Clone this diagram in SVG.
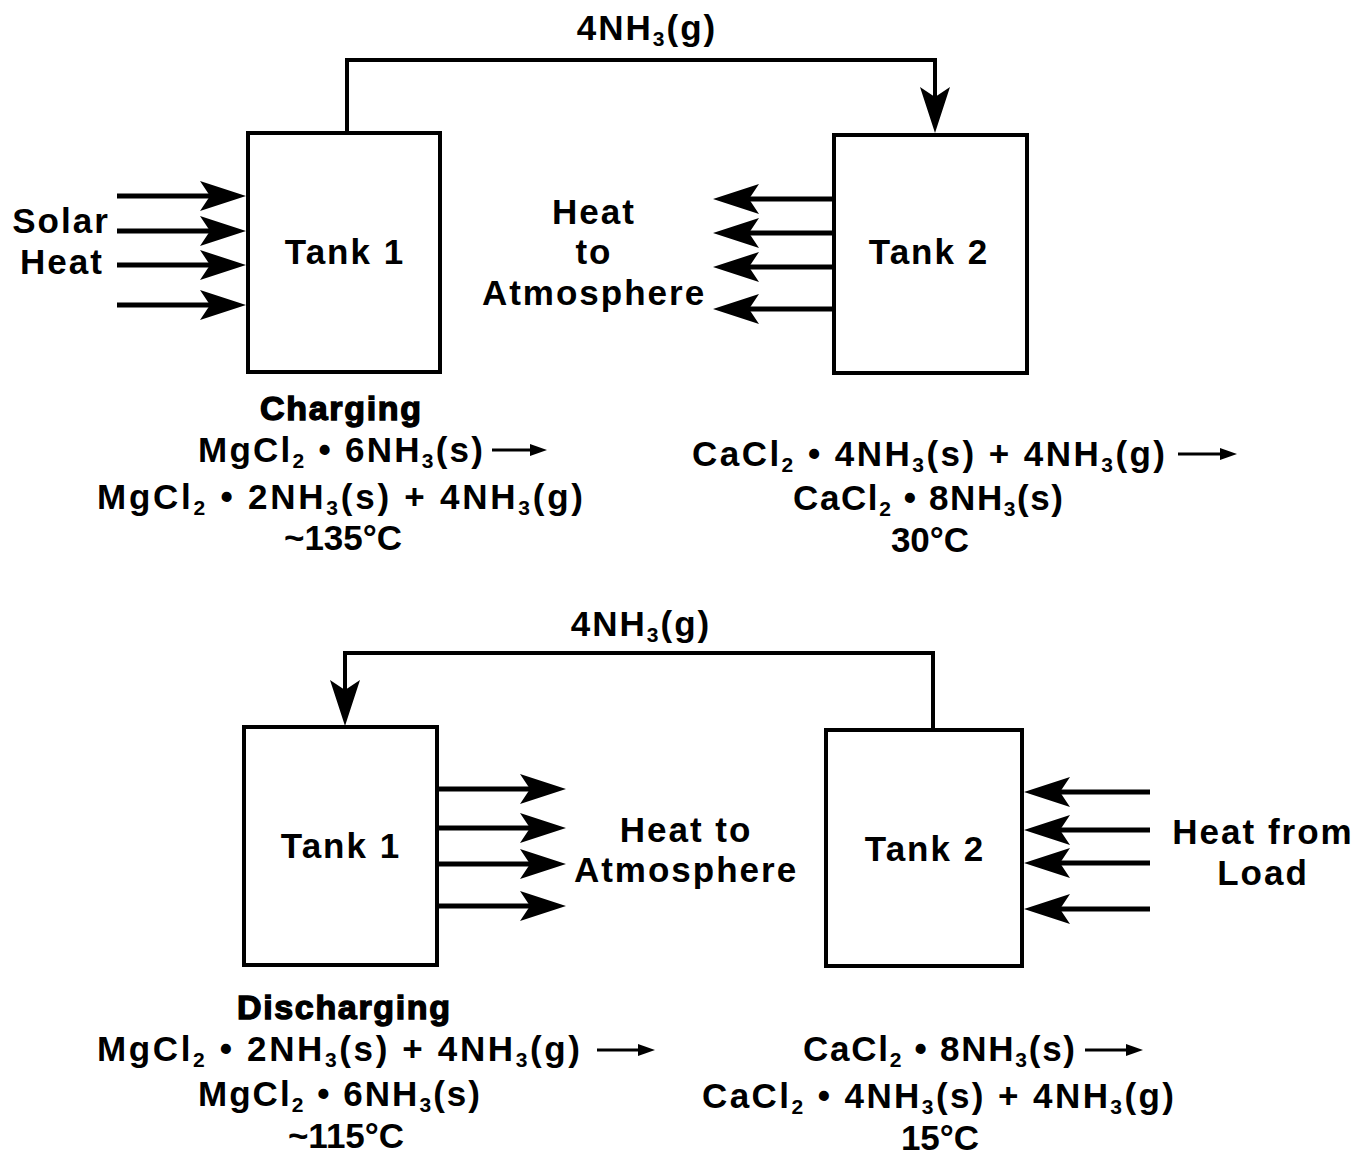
<svg xmlns="http://www.w3.org/2000/svg" width="1360" height="1155" viewBox="0 0 1360 1155">
<style>
.tank{fill:none;stroke:#000;stroke-width:4}
.pipe{fill:none;stroke:#000;stroke-width:4}
.heat{fill:none;stroke:#000;stroke-width:5;marker-end:url(#bh)}
.rx{fill:none;stroke:#000;stroke-width:3;marker-end:url(#sh)}
text{font-family:"Liberation Sans",Arial,sans-serif;font-weight:bold;fill:#000}
.lbl{font-size:35px;letter-spacing:2px;text-anchor:middle}
.chem{font-size:35px}
.hd{font-size:34px;stroke:#000;stroke-width:1.4}
.sub{font-size:21px}
</style>
<defs>
<marker id="bh" markerUnits="userSpaceOnUse" viewBox="-50 -20 55 40" markerWidth="55" markerHeight="40" refX="-30" refY="0" orient="auto">
<path d="M0,0 L-46,-15 L-36,0 L-46,15 Z" fill="#000"/>
</marker>
<marker id="sh" markerUnits="userSpaceOnUse" viewBox="-20 -10 24 20" markerWidth="24" markerHeight="20" refX="-10" refY="0" orient="auto">
<path d="M0,0 L-17,-6 L-17,6 Z" fill="#000"/>
</marker>
</defs>

<g id="top-tank1"><rect class="tank" x="248" y="133" width="192" height="239"/><text class="lbl" x="345" y="264">Tank 1</text></g>
<g id="top-tank2"><rect class="tank" x="834" y="135" width="193" height="238"/><text class="lbl" x="929" y="264">Tank 2</text></g>
<g id="bot-tank1"><rect class="tank" x="244" y="727" width="193" height="238"/><text class="lbl" x="341" y="858">Tank 1</text></g>
<g id="bot-tank2"><rect class="tank" x="826" y="730" width="196" height="236"/><text class="lbl" x="925" y="861">Tank 2</text></g>

<g id="connectors">
<path class="pipe" d="M347,133 V60 H935 V103" marker-end="url(#bh)"/>
<path class="pipe" d="M933,730 V653 H345 V696" marker-end="url(#bh)"/>
<line class="heat" x1="117" y1="196" x2="216" y2="196"/>
<line class="heat" x1="117" y1="231" x2="216" y2="231"/>
<line class="heat" x1="117" y1="265" x2="216" y2="265"/>
<line class="heat" x1="117" y1="305" x2="216" y2="305"/>
<line class="heat" x1="834" y1="199" x2="743" y2="199"/>
<line class="heat" x1="834" y1="233" x2="743" y2="233"/>
<line class="heat" x1="834" y1="267" x2="743" y2="267"/>
<line class="heat" x1="834" y1="309" x2="743" y2="309"/>
<line class="heat" x1="437" y1="789" x2="536" y2="789"/>
<line class="heat" x1="437" y1="828" x2="536" y2="828"/>
<line class="heat" x1="437" y1="864" x2="536" y2="864"/>
<line class="heat" x1="437" y1="906" x2="536" y2="906"/>
<line class="heat" x1="1150" y1="792" x2="1054" y2="792"/>
<line class="heat" x1="1150" y1="830" x2="1054" y2="830"/>
<line class="heat" x1="1150" y1="863" x2="1054" y2="863"/>
<line class="heat" x1="1150" y1="909" x2="1054" y2="909"/>
</g>

<g id="labels">
<text class="lbl" x="647" y="40">4NH<tspan class="sub" dy="6">3</tspan><tspan dy="-6">(g)</tspan></text>
<text class="lbl" x="641" y="636">4NH<tspan class="sub" dy="6">3</tspan><tspan dy="-6">(g)</tspan></text>
<text class="lbl" x="61" y="233">Solar</text>
<text class="lbl" x="62" y="274">Heat</text>
<text class="lbl" x="594" y="224">Heat</text>
<text class="lbl" x="594" y="264">to</text>
<text class="lbl" x="594" y="305">Atmosphere</text>
<text class="lbl" x="686" y="842">Heat to</text>
<text class="lbl" x="686" y="882">Atmosphere</text>
<text class="lbl" x="1263" y="844">Heat from</text>
<text class="lbl" x="1263" y="885">Load</text>
</g>

<g id="charging">
<text class="hd" x="260" y="420" textLength="161" lengthAdjust="spacing">Charging</text>
<text class="chem" x="198" y="462" textLength="285" lengthAdjust="spacing">MgCl<tspan class="sub" dy="6">2</tspan><tspan dy="-6"> • 6NH</tspan><tspan class="sub" dy="6">3</tspan><tspan dy="-6">(s)</tspan></text>
<line class="rx" x1="492" y1="450" x2="537" y2="450"/>
<text class="chem" x="97" y="509" textLength="486" lengthAdjust="spacing">MgCl<tspan class="sub" dy="6">2</tspan><tspan dy="-6"> • 2NH</tspan><tspan class="sub" dy="6">3</tspan><tspan dy="-6">(s)  +  4NH</tspan><tspan class="sub" dy="6">3</tspan><tspan dy="-6">(g)</tspan></text>
<text class="chem" x="343" y="550" text-anchor="middle">~135°C</text>
<text class="chem" x="692" y="466" textLength="473" lengthAdjust="spacing">CaCl<tspan class="sub" dy="6">2</tspan><tspan dy="-6"> • 4NH</tspan><tspan class="sub" dy="6">3</tspan><tspan dy="-6">(s)  +  4NH</tspan><tspan class="sub" dy="6">3</tspan><tspan dy="-6">(g)</tspan></text>
<line class="rx" x1="1178" y1="454" x2="1227" y2="454"/>
<text class="chem" x="793" y="510" textLength="270" lengthAdjust="spacing">CaCl<tspan class="sub" dy="6">2</tspan><tspan dy="-6"> • 8NH</tspan><tspan class="sub" dy="6">3</tspan><tspan dy="-6">(s)</tspan></text>
<text class="chem" x="930" y="552" text-anchor="middle">30°C</text>
</g>

<g id="discharging">
<text class="hd" x="237" y="1019" textLength="213" lengthAdjust="spacing">Discharging</text>
<text class="chem" x="97" y="1061" textLength="483" lengthAdjust="spacing">MgCl<tspan class="sub" dy="6">2</tspan><tspan dy="-6"> • 2NH</tspan><tspan class="sub" dy="6">3</tspan><tspan dy="-6">(s)  +  4NH</tspan><tspan class="sub" dy="6">3</tspan><tspan dy="-6">(g)</tspan></text>
<line class="rx" x1="597" y1="1050" x2="645" y2="1050"/>
<text class="chem" x="198" y="1106" textLength="282" lengthAdjust="spacing">MgCl<tspan class="sub" dy="6">2</tspan><tspan dy="-6"> • 6NH</tspan><tspan class="sub" dy="6">3</tspan><tspan dy="-6">(s)</tspan></text>
<text class="chem" x="346" y="1148" text-anchor="middle">~115°C</text>
<text class="chem" x="803" y="1061" textLength="272" lengthAdjust="spacing">CaCl<tspan class="sub" dy="6">2</tspan><tspan dy="-6"> • 8NH</tspan><tspan class="sub" dy="6">3</tspan><tspan dy="-6">(s)</tspan></text>
<line class="rx" x1="1085" y1="1050" x2="1133" y2="1050"/>
<text class="chem" x="702" y="1108" textLength="472" lengthAdjust="spacing">CaCl<tspan class="sub" dy="6">2</tspan><tspan dy="-6"> • 4NH</tspan><tspan class="sub" dy="6">3</tspan><tspan dy="-6">(s)  +  4NH</tspan><tspan class="sub" dy="6">3</tspan><tspan dy="-6">(g)</tspan></text>
<text class="chem" x="940" y="1150" text-anchor="middle">15°C</text>
</g>
</svg>
